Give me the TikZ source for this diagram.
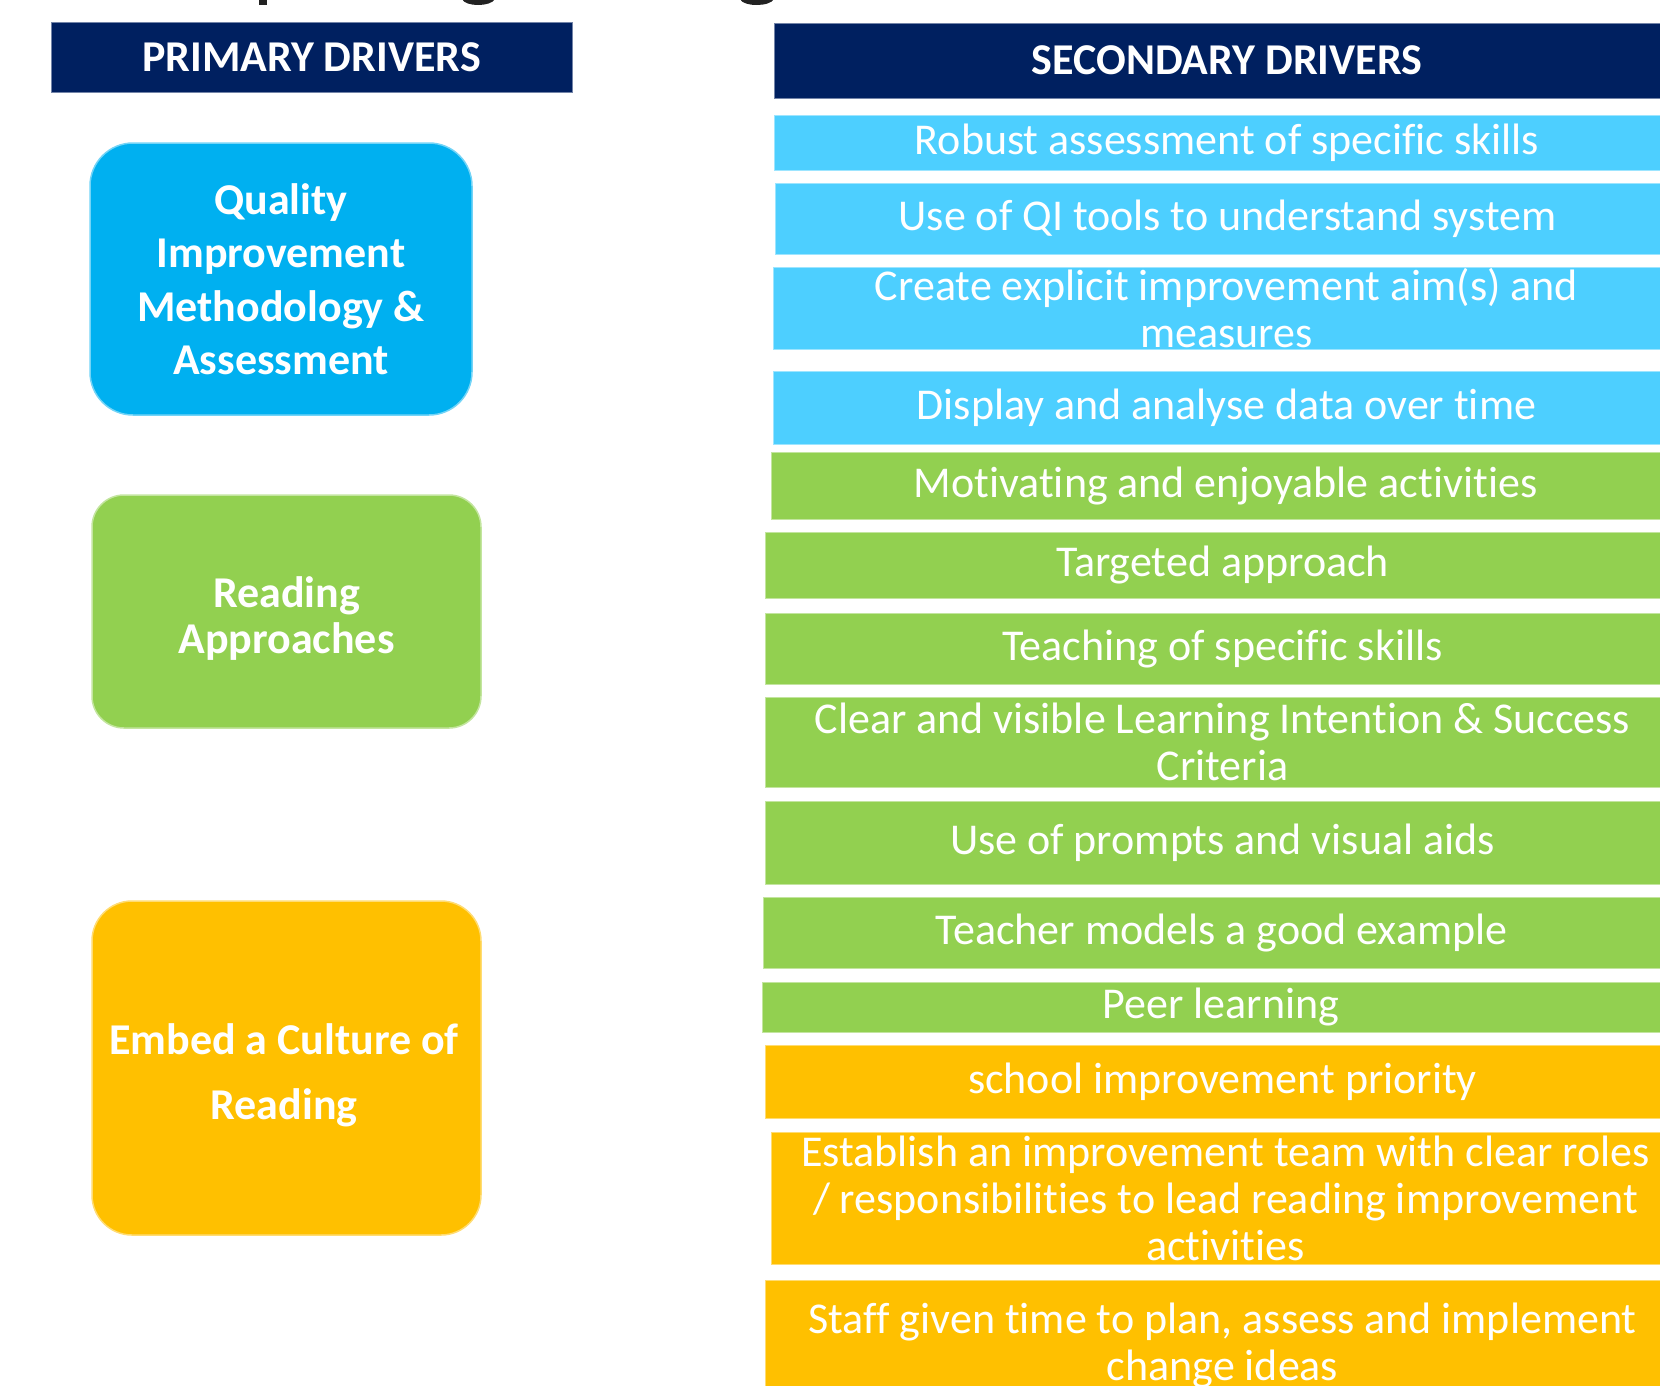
\documentclass[tikz,border=0pt]{standalone}
\usepackage{fontspec}
\setmainfont[Ligatures=NoCommon, RawFeature={-calt;-clig;-dlig}]{Carlito}
\definecolor{navy}{HTML}{002060}
\definecolor{qiblue}{HTML}{00B0F0}
\definecolor{skyrow}{HTML}{4DCFFF}
\definecolor{leaf}{HTML}{92D050}
\definecolor{amber}{HTML}{FFC000}
\definecolor{ink}{HTML}{222222}

% one secondary-driver bar: name, left, top, bottom, colour, text
\newcommand\drvrow[6]{%
  \node[secbox, fill=#5, draw=#5!55!white,
        minimum width={(1680-#2)*1pt}, minimum height={(#4-#3)*1pt}]
       (#1) at ({(#2+1680)/2},{(#3+#4)/2}) {#6};}

\begin{document}
\begin{tikzpicture}[x=1pt,y=-1pt,
  header/.style={fill=navy, draw=navy!55!white, line width=1pt, inner sep=0pt,
                 text=white, font=\fontsize{44}{48}\selectfont\bfseries},
  primbox/.style={inner sep=0pt, line width=1.5pt},
  primtext/.style={text=white, align=center, inner sep=0pt},
  secbox/.style={inner sep=0pt, line width=1pt, text=white, align=center,
                 font=\fontsize{44}{47}\selectfont},
]
\useasboundingbox (0,0) rectangle (1660,1385);
\clip (0,0) rectangle (1660,1385);

% tails of the heading line above the frame
\fill[ink] (259,-1) rectangle (267,5);
\fill[ink] (462,-1) .. controls (465,7) and (491,7) .. (495,-1) -- cycle;
\fill[ink] (740,-1) .. controls (743,7) and (770,7) .. (774,-1) -- cycle;

% column headers
\node[header, minimum width=521pt, minimum height=70pt] (primhead) at (311.5,57) {PRIMARY DRIVERS};
\node[header, minimum width=906pt, minimum height=75pt] (sechead) at (1227,60.5) {SECONDARY DRIVERS};

% primary drivers
\node[primbox, fill=qiblue, draw=qiblue!55!white, rounded corners=43pt,
      minimum width=382pt, minimum height=272pt] (qi) at (281,279) {};
\node[primtext, font=\fontsize{44}{53.5}\selectfont\bfseries] (qitext) at (281,279)
  {Quality\\Improvement\\Methodology \&\\Assessment};

\node[primbox, fill=leaf, draw=leaf!55!white, rounded corners=32pt,
      minimum width=389pt, minimum height=233pt] (ra) at (286.5,611.5) {};
\node[primtext, font=\fontsize{44}{46}\selectfont\bfseries] (ratext) at (286.5,619)
  {Reading\\Approaches};

\node[primbox, fill=amber, draw=amber!55!white, rounded corners=40pt,
      minimum width=389pt, minimum height=334pt] (cr) at (286.5,1068) {};
\node[primtext, font=\fontsize{44}{65}\selectfont\bfseries] (crtext) at (284,1075)
  {Embed a Culture of\\Reading};

% secondary drivers
\drvrow{s1}{774}{115}{170}{skyrow}{Robust assessment of specific skills}
\drvrow{s2}{775}{183}{254}{skyrow}{Use of QI tools to understand system}
\drvrow{s3}{773}{267}{349}{skyrow}{Create explicit improvement aim(s) and\\measures}
\drvrow{s4}{773}{371}{444}{skyrow}{Display and analyse data over time}
\drvrow{s5}{771}{452}{519}{leaf}{Motivating and enjoyable activities}
\drvrow{s6}{765}{532}{598}{leaf}{Targeted approach}
\drvrow{s7}{765}{613}{684}{leaf}{Teaching of specific skills}
\drvrow{s8}{765}{697}{787}{leaf}{Clear and visible Learning Intention \& Success\\Criteria}
\drvrow{s9}{765}{801}{884}{leaf}{Use of prompts and visual aids}
\drvrow{s10}{763}{897}{968}{leaf}{Teacher models a good example}
\drvrow{s11}{762}{982}{1032}{leaf}{Peer learning}
\drvrow{s12}{765}{1045}{1118}{amber}{school improvement priority}
\drvrow{s13}{771}{1132}{1264}{amber}{Establish an improvement team with clear roles\\/ responsibilities to lead reading improvement\\activities}
\drvrow{s14}{765}{1280}{1410}{amber}{Staff given time to plan, assess and implement\\change ideas}
\end{tikzpicture}
\end{document}
